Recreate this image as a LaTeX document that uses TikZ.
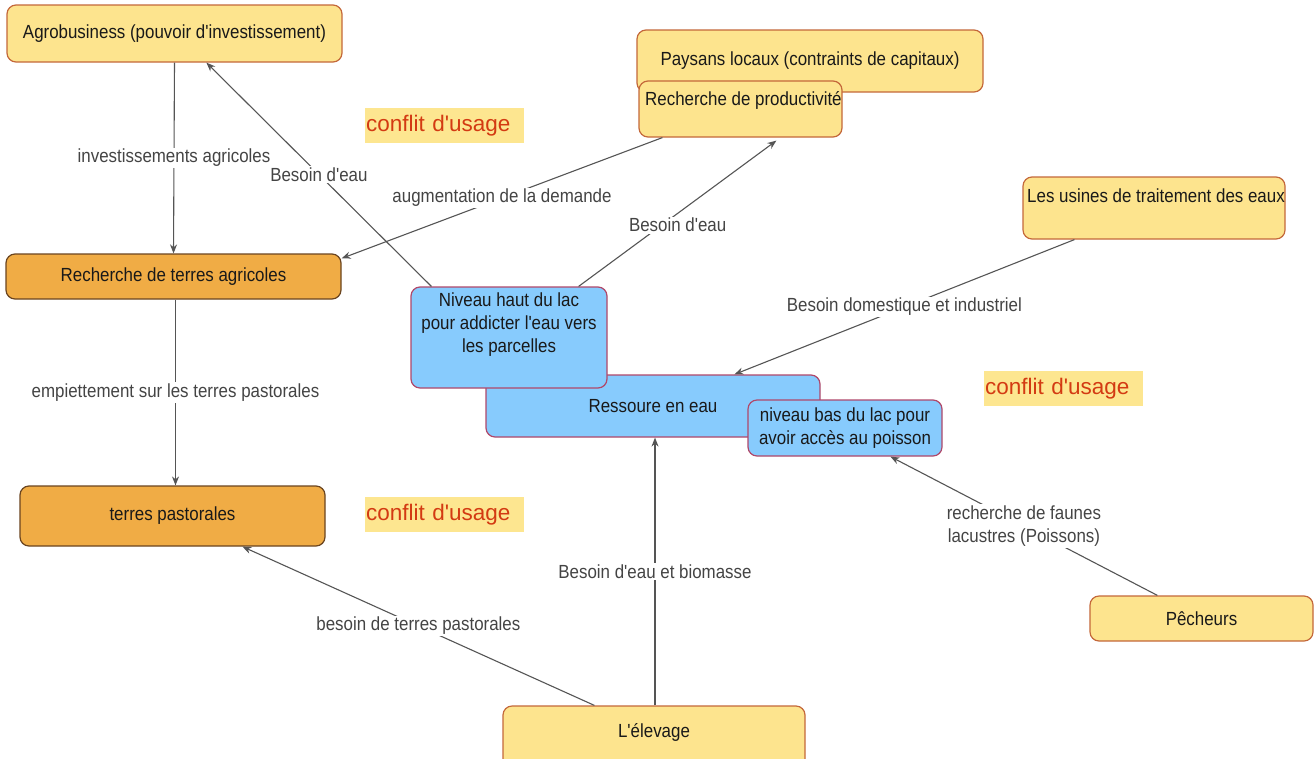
\documentclass[tikz,border=0pt]{standalone}
\usepackage{fontspec}
\setmainfont[FakeStretch=0.89, Ligatures=TeXOff]{Liberation Sans}
\newfontfamily\conflitfont{Liberation Sans}
\usetikzlibrary{arrows.meta}
\definecolor{yel}{HTML}{FDE48E}
\definecolor{yelb}{HTML}{C4683A}
\definecolor{org}{HTML}{F0AC45}
\definecolor{orgb}{HTML}{6B4520}
\definecolor{blu}{HTML}{87CBFD}
\definecolor{blub}{HTML}{B0486A}
\definecolor{hl}{HTML}{FDE690}
\definecolor{redt}{HTML}{D33A12}
\definecolor{edgec}{HTML}{555555}
\definecolor{lbl}{HTML}{444444}
\begin{document}
\begin{tikzpicture}[x=1pt,y=-1pt,
 box/.style={rounded corners=9pt, line width=1.2pt, inner sep=0pt, font=\fontsize{19}{23}\selectfont, text=black!90, align=center},
 ybox/.style={box, fill=yel, draw=yelb},
 obox/.style={box, fill=org, draw=orgb},
 bbox/.style={box, fill=blu, draw=blub},
 txt/.style={inner sep=0pt, font=\fontsize{19}{23}\selectfont, text=black!90, align=center},
 lab/.style={fill=white, inner sep=1.5pt, text=lbl, font=\fontsize{19}{23}\selectfont, align=center},
 conn/.style={draw=edgec, line width=1.1pt, -{Stealth[length=9pt,width=7pt]}},
 conflit/.style={fill=hl, text=redt, font=\conflitfont\fontsize{22.5}{26}\selectfont, text width=157pt, align=left, minimum height=35pt, inner xsep=1pt, inner ysep=0pt}
]
\useasboundingbox[fill=white] (0,0) rectangle (1314,758);

% conflict highlights
\node[conflit] (c1) at (444.5,125.5) {conflit d'usage};
\node[conflit] (c2) at (1063.5,388.5) {conflit d'usage};
\node[conflit] (c3) at (444.5,514.5) {conflit d'usage};

% boxes
\node[ybox, minimum width=335pt, minimum height=57pt] (ag) at (174.5,33.5) {Agrobusiness (pouvoir d'investissement)};
\node[obox, minimum width=335pt, minimum height=45pt] (rt) at (173.5,276.5) {Recherche de terres agricoles};
\node[obox, minimum width=305pt, minimum height=60pt] (tp) at (172.5,516) {terres pastorales};
\node[ybox, minimum width=346pt, minimum height=62pt] (pl) at (810,61) {Paysans locaux (contraints de capitaux)};
\node[ybox, minimum width=203pt, minimum height=56pt] (prod) at (740.5,109) {};
\node[txt, anchor=west] (prodT) at (645,100) {Recherche de productivit\'e};
\node[ybox, minimum width=262pt, minimum height=62pt] (us) at (1154,208) {};
\node[txt, anchor=west] (usT) at (1027,196) {Les usines de traitement des eaux};
\node[bbox, minimum width=334pt, minimum height=62pt] (rs) at (653,406) {Ressoure en eau};
\node[bbox, minimum width=196pt, minimum height=101pt] (nh) at (509,337.5) {};
\node[txt] (nhT) at (509,325) {Niveau haut du lac\\pour addicter l'eau vers\\les parcelles};
\node[bbox, minimum width=194pt, minimum height=56pt] (nb) at (845,428) {niveau bas du lac pour\\avoir acc\`es au poisson};
\node[ybox, minimum width=223pt, minimum height=45pt] (pe) at (1201.5,618.5) {P\^echeurs};
\node[ybox, minimum width=302pt, minimum height=64pt] (el) at (654,738) {};
\node[txt] (elT) at (654,732) {L'\'elevage};

% connectors
\draw[conn] (ag.south) -- node[lab, pos=0.5] {investissements agricoles} (rt.north);
\draw[conn] ([xshift=21pt]nh.north west) -- node[lab, pos=0.5] {Besoin d'eau} ([xshift=200pt]ag.south west);
\draw[conn] ([xshift=24pt]prod.south west) -- node[lab, pos=0.5] {augmentation de la demande} ([yshift=-5pt]rt.north east);
\draw[conn] ([xshift=-29pt]nh.north east) -- node[lab, pos=0.42, xshift=16pt] {Besoin d'eau} ([xshift=138pt,yshift=-3pt]prod.south west);
\draw[conn] ([xshift=52pt]us.south west) -- node[lab, pos=0.5] {Besoin domestique et industriel} ([xshift=249pt]rs.north west);
\draw[conn] ([xshift=1pt]el.north) -- node[lab, pos=0.5] {Besoin d'eau et biomasse} ([xshift=1pt]el.north |- rs.south);
\draw[conn] ([xshift=92pt]el.north west) -- node[lab, pos=0.5] {besoin de terres pastorales} ([xshift=223pt]tp.south west);
\draw[conn] ([xshift=2pt]rt.south) -- node[lab, pos=0.5] {empiettement sur les terres pastorales} ([xshift=3pt]tp.north);
\draw[conn] ([xshift=68pt]pe.north west) -- node[lab, pos=0.5] {recherche de faunes\\lacustres (Poissons)} ([xshift=143pt]nb.south west);
\end{tikzpicture}
\end{document}
